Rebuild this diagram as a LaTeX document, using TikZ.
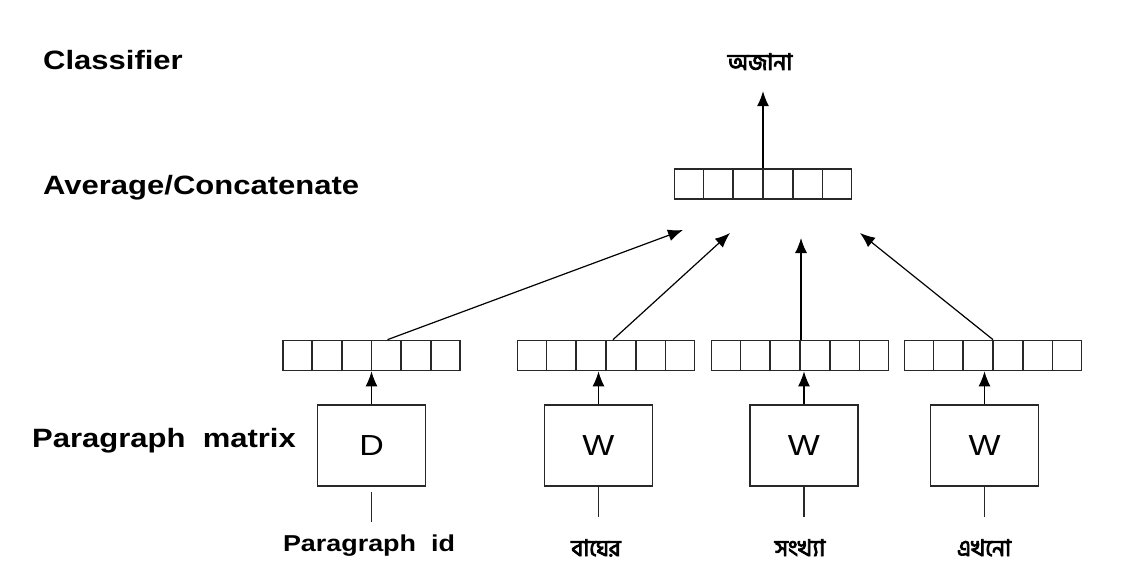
\documentclass[tikz,border=0pt]{standalone}
\usepackage{fontspec}
\usepackage{tikz}
\usetikzlibrary{arrows,arrows.meta,positioning,calc}
\setmainfont{Liberation Sans}
\newfontfamily\lblfont[FakeStretch=1.17]{Liberation Sans}
\newfontfamily\bnfont[Script=Bengali, FakeBold=3.5]{Hind Siliguri}
\definecolor{lineg}{RGB}{40,40,40}
\tikzstyle{arrow} = [line width=1.2pt,-{Latex[length=15pt,width=12pt]},color=black]
\tikzstyle{vecbox} = [rectangle, minimum width=177pt, minimum height=30pt, inner sep=0pt, draw=lineg, line width=1.7pt]
\tikzstyle{matbox} = [rectangle, minimum width=108pt, minimum height=81pt, inner sep=0pt, draw=lineg, line width=1.4pt, font=\lblfont\fontsize{29}{29}\selectfont]
\tikzstyle{sidelbl} = [anchor=base west, inner sep=0pt, font=\lblfont\bfseries\fontsize{26.5}{26.5}\selectfont]
\tikzstyle{inlbl} = [anchor=base, inner sep=0pt, font=\lblfont\bfseries\fontsize{23}{23}\selectfont]
\tikzstyle{bnlbl} = [anchor=base, inner sep=0pt, font=\bnfont\fontsize{23}{23}\selectfont]
\newcommand{\vcells}[1]{\foreach \k in {1,...,5} \draw[lineg, line width=1.7pt] ($(#1.south west)!\k/6!(#1.south east)$) -- ($(#1.north west)!\k/6!(#1.north east)$);}
\begin{document}
\begin{tikzpicture}[x=1pt, y=-1pt]
\useasboundingbox (0,0) rectangle (1124,588);
% Layer names
\node[sidelbl] (cls) at (43,70) {Classifier};
\node[sidelbl] (avglbl) at (43,195) {Average/Concatenate};
\node[sidelbl] (pmlbl) at (32,447) {Paragraph\ \ matrix};
% Output
\node[bnlbl] (out) at (760,70) {অজানা};
\node[vecbox] (avg) at (763,184) {};
\vcells{avg}
% Inputs
\node[vecbox] (v1) at (371.5,355.5) {};
\node[vecbox] (v2) at (606,355.5) {};
\node[vecbox] (v3) at (800,355.5) {};
\node[vecbox] (v4) at (993,355.5) {};
\foreach \v in {v1,v2,v3,v4} {\vcells{\v}}
\node[matbox, below=33pt of v1] (d) {D};
\node[matbox, below=33pt of v2, xshift=-7.5pt] (w1) {W};
\node[matbox, below=33pt of v3, xshift=4pt] (w2) {W};
\node[matbox, below=33pt of v4, xshift=-8.5pt] (w3) {W};
\node[inlbl] (pid) at (369,551) {Paragraph\ \ id};
\node[bnlbl] (x1) at (596,556) {বাঘের};
\node[bnlbl] (x2) at (800,556) {সংখ্যা};
\node[bnlbl] (x3) at (984,556) {এখনো};
% Connectors
\draw[lineg, line width=1.2pt] ($(d.south)+(0,5)$) -- ($(d.south)+(0,35)$);
\foreach \b in {w1,w2,w3} {\draw[lineg, line width=1.2pt] (\b.south) -- ($(\b.south)+(0,30)$);}
\draw[arrow] (d.north) -- (d.north |- v1.south);
\draw[arrow] (w1.north) -- (w1.north |- v2.south);
\draw[arrow] (w2.north) -- (w2.north |- v3.south);
\draw[arrow] (w3.north) -- (w3.north |- v4.south);
\coordinate (t1) at (683,230);
\coordinate (t2) at (730,233);
\coordinate (t3) at (801,238);
\coordinate (t4) at (860,233);
\draw[arrow] ($(v1.north)+(16,0)$) -- (t1);
\draw[arrow] ($(v2.north)+(7,0)$) -- (t2);
\draw[arrow] ($(v3.north)+(1,0)$) -- (t3);
\draw[arrow] (v4.north) -- (t4);
\draw[arrow] (avg.north) -- ($(avg.north)+(0,-77)$);
\end{tikzpicture}
\end{document}
